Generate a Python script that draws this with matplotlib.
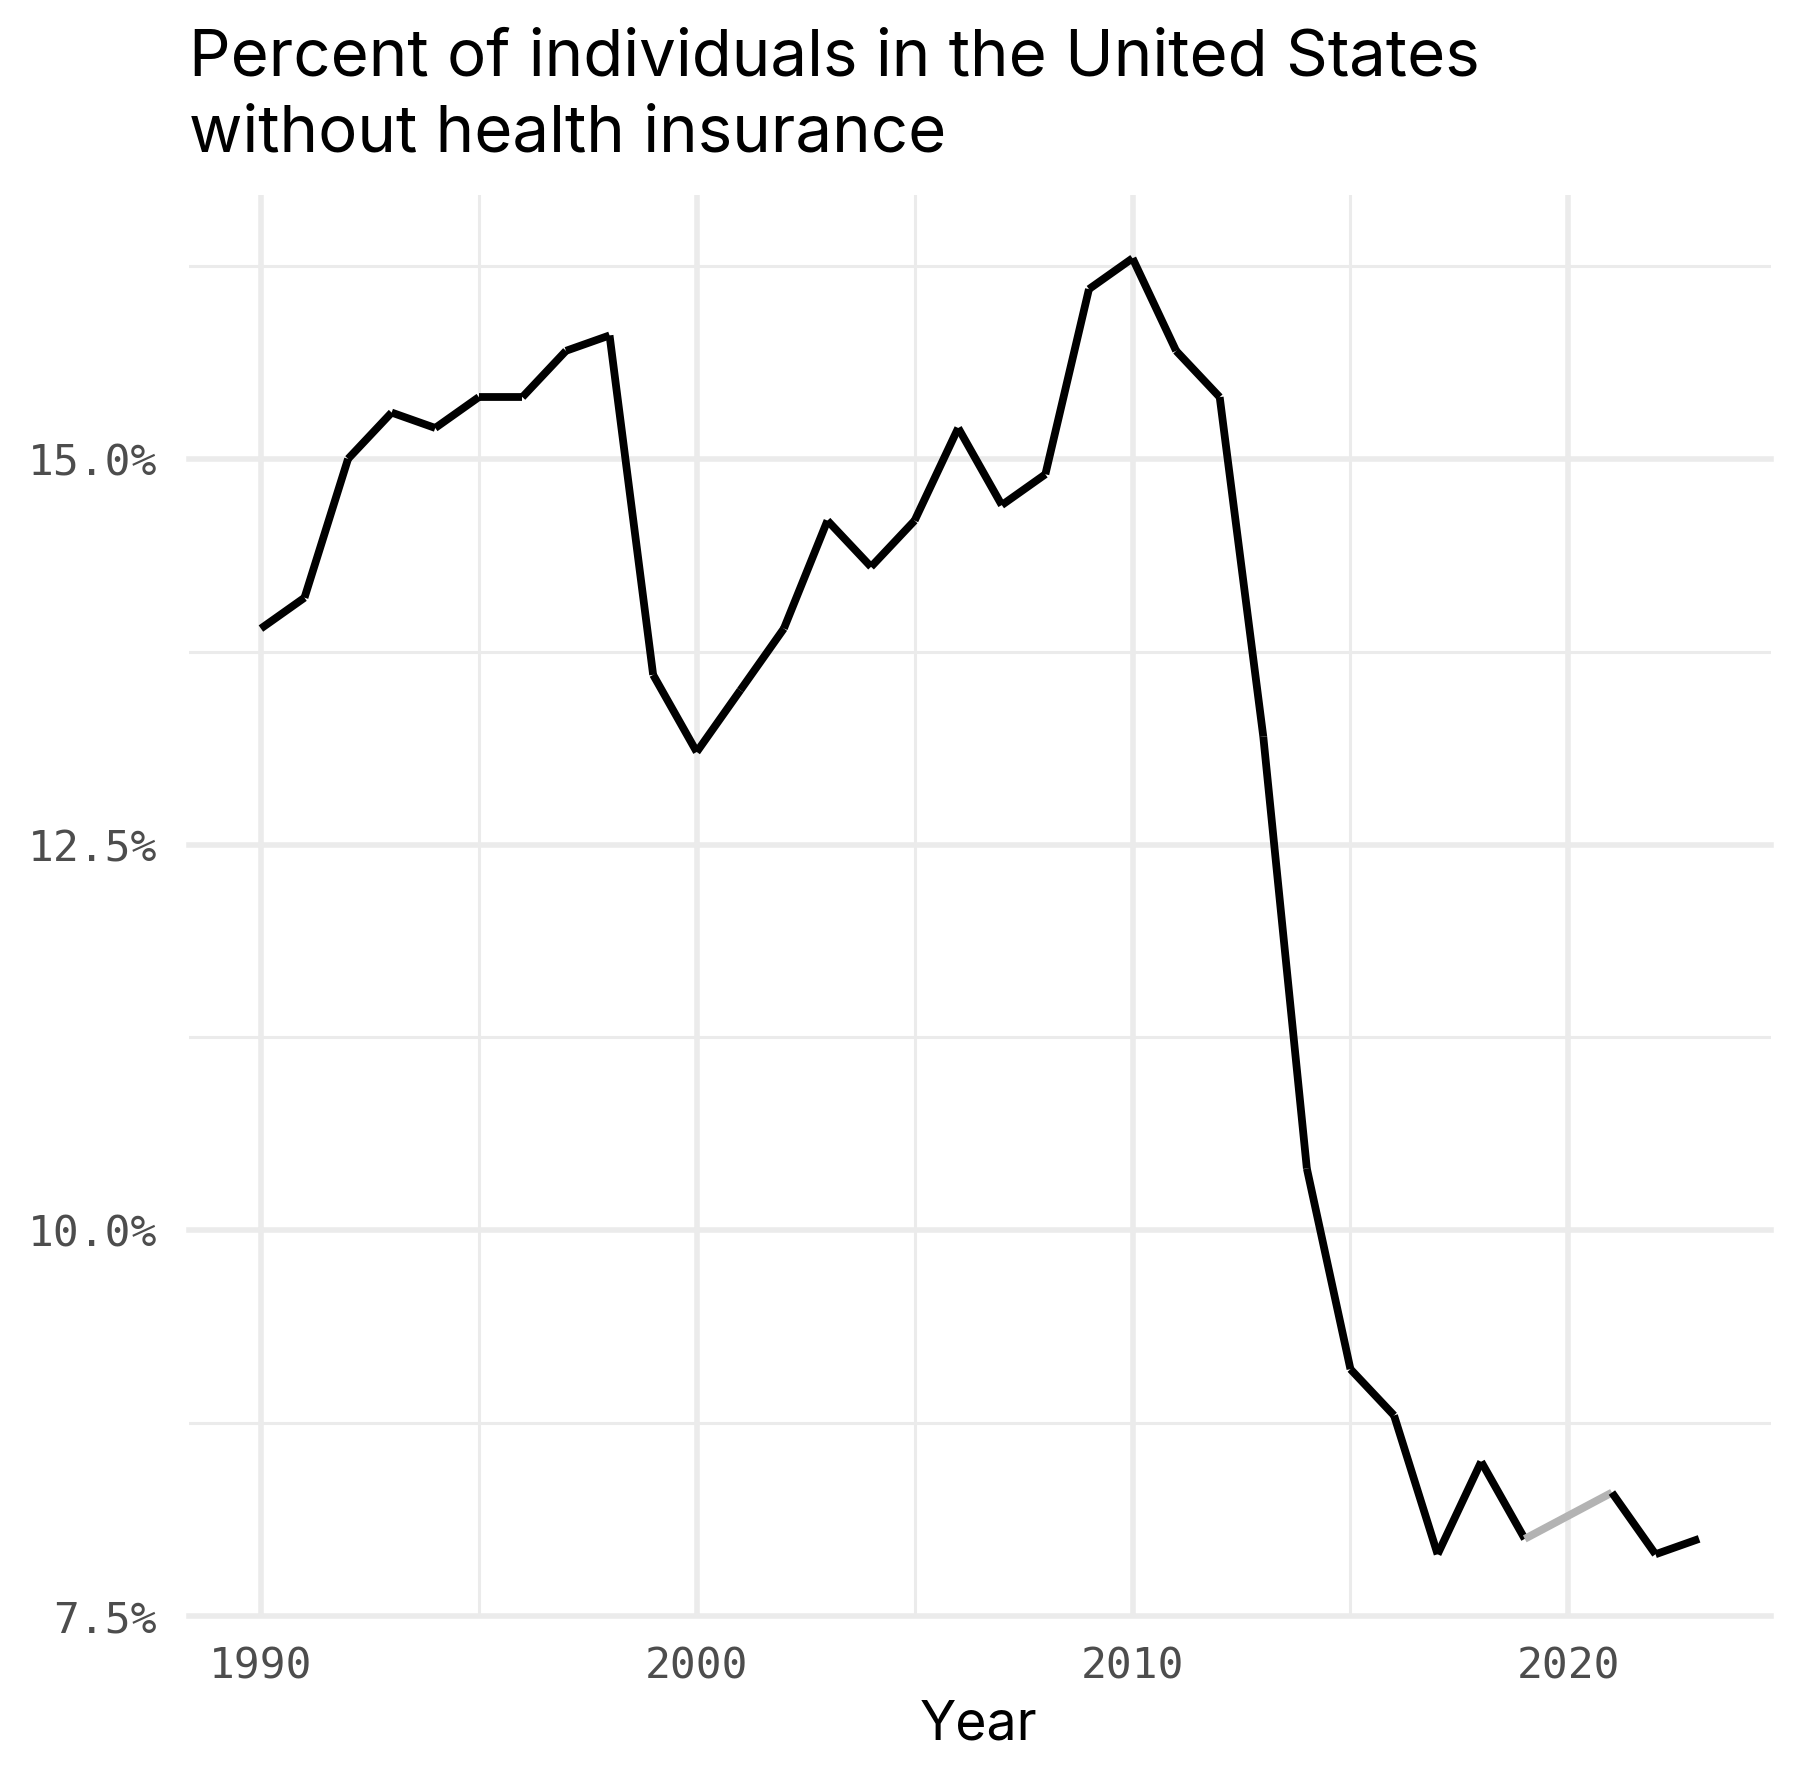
import matplotlib
matplotlib.use("Agg")
import matplotlib.pyplot as plt
from matplotlib.ticker import FixedLocator, FuncFormatter

# uninsured share, percent (2020 not surveyed)
years = [1990, 1991, 1992, 1993, 1994, 1995, 1996, 1997, 1998, 1999,
         2000, 2001, 2002, 2003, 2004, 2005, 2006, 2007, 2008, 2009,
         2010, 2011, 2012, 2013, 2014, 2015, 2016, 2017, 2018, 2019,
         2021, 2022, 2023]
uninsured = [13.9, 14.1, 15.0, 15.3, 15.2, 15.4, 15.4, 15.7, 15.8, 13.6,
             13.1, 13.5, 13.9, 14.6, 14.3, 14.6, 15.2, 14.7, 14.9, 16.1,
             16.3, 15.7, 15.4, 13.2, 10.4, 9.1, 8.8, 7.9, 8.5, 8.0,
             8.3, 7.9, 8.0]

x_major = [1990, 2000, 2010, 2020]
x_minor = [1995, 2005, 2015]
y_major = [7.5, 10.0, 12.5, 15.0]
y_minor = [8.75, 11.25, 13.75, 16.25]

title_1 = "Percent of individuals in the United States"
title_2 = "without health insurance"

W, H = 1800, 1779
fig = plt.figure(figsize=(W / 100, H / 100), dpi=100)
ax = fig.add_axes([189 / W, 1 - 1616 / H, (1771 - 189) / W, (1616 - 195) / H])

grid = "#EBEBEB"
for v in x_minor:
    ax.axvline(v, color=grid, lw=2.2, zorder=0)
for v in x_major:
    ax.axvline(v, color=grid, lw=4.0, zorder=0)
for v in y_minor:
    ax.axhline(v, color=grid, lw=2.2, zorder=0)
for v in y_major:
    ax.axhline(v, color=grid, lw=4.0, zorder=0, clip_on=False)

# draw segment by segment, gap year in grey
for i in range(len(years) - 1):
    c = "#B3B3B3" if years[i + 1] - years[i] > 1 else "black"
    ax.plot(years[i:i + 2], uninsured[i:i + 2], color=c, lw=5.6,
            solid_capstyle="butt", zorder=3)

ax.set_xlim(1988.35, 2024.65)
ax.set_ylim(7.5, 16.71)

ax.xaxis.set_major_locator(FixedLocator(x_major))
ax.yaxis.set_major_locator(FixedLocator(y_major))
ax.yaxis.set_major_formatter(FuncFormatter(lambda v, p: f"{v:.1f}%"))
ax.tick_params(length=0, labelsize=31, labelcolor="#4D4D4D")
ax.tick_params(axis="x", pad=21)
ax.tick_params(axis="y", pad=23)
for lab in ax.get_xticklabels() + ax.get_yticklabels():
    lab.set_family("DejaVu Sans Mono")
for s in ax.spines.values():
    s.set_visible(False)

fig.text(979 / W, 1 - 1739 / H, "Year", fontsize=38.5, family="Inter",
         ha="center", va="baseline")
fig.text(189 / W, 1 - 76 / H, title_1, fontsize=47, family="Inter",
         ha="left", va="baseline")
fig.text(189 / W, 1 - 152 / H, title_2, fontsize=47, family="Inter",
         ha="left", va="baseline")

fig.savefig("out.png", dpi=100, facecolor="white")
